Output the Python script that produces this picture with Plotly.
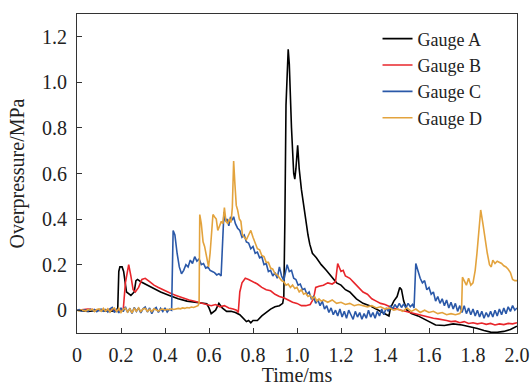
import plotly.graph_objects as go

# ---------------- data ----------------
tA = [0, 0.05, 0.1, 0.15, 0.185, 0.19, 0.195, 0.205, 0.212, 0.225, 0.245, 0.26, 0.268, 0.275, 0.29,
      0.32, 0.35, 0.38, 0.42, 0.46, 0.5, 0.54, 0.57, 0.59, 0.6, 0.61, 0.63, 0.645, 0.66, 0.68,
      0.70, 0.72, 0.74, 0.76, 0.77, 0.78, 0.79, 0.80, 0.82, 0.84, 0.86, 0.88, 0.90, 0.92, 0.935,
      0.94, 0.945, 0.95, 0.96, 0.965, 0.975, 0.985, 0.99, 0.995, 1.003, 1.01, 1.02, 1.03, 1.042, 1.05,
      1.058, 1.07, 1.088, 1.11, 1.133, 1.16, 1.18, 1.2, 1.22, 1.24, 1.27, 1.30, 1.33, 1.36, 1.39,
      1.41, 1.418, 1.425, 1.44, 1.455, 1.467, 1.475, 1.485, 1.5, 1.52, 1.55, 1.58, 1.6, 1.63, 1.67,
      1.71, 1.75, 1.785, 1.82, 1.85, 1.88, 1.91, 1.94, 1.97, 2.0]
pA = [0, -0.005, 0.0, -0.005, 0.0, 0.17, 0.19, 0.19, 0.17, 0.08, 0.065, 0.08, 0.13, 0.135, 0.125,
      0.11, 0.095, 0.08, 0.065, 0.05, 0.04, 0.035, 0.03, 0.028, 0.01, -0.015, 0.0, 0.03, 0.01, -0.005,
      -0.005, -0.01, -0.02, -0.04, -0.05, -0.045, -0.055, -0.045, -0.045, -0.025, -0.01, 0.005, 0.015, 0.02, 0.03,
      0.06, 0.4, 0.9, 1.145, 1.08, 0.8, 0.6, 0.575, 0.62, 0.724, 0.62, 0.53, 0.46, 0.39, 0.33,
      0.29, 0.25, 0.23, 0.2, 0.175, 0.145, 0.12, 0.11, 0.09, 0.08, 0.05, 0.03, 0.02, 0.005, -0.01,
      -0.02, -0.025, 0.01, 0.04, 0.06, 0.1, 0.09, 0.04, 0.0, -0.015, -0.025, -0.04, -0.05, -0.065, -0.067,
      -0.06, -0.065, -0.072, -0.08, -0.089, -0.096, -0.097, -0.093, -0.085, -0.07]

tB = [0, 0.05, 0.1, 0.15, 0.2, 0.21, 0.22, 0.235, 0.245, 0.255, 0.265, 0.28, 0.295, 0.31, 0.33,
      0.35, 0.37, 0.39, 0.41, 0.43, 0.45, 0.47, 0.49, 0.51, 0.53, 0.55, 0.57, 0.59, 0.61, 0.63,
      0.65, 0.67, 0.69, 0.71, 0.725, 0.733, 0.74, 0.75, 0.765, 0.78, 0.8, 0.82, 0.84, 0.86, 0.88,
      0.9, 0.92, 0.94, 0.96, 0.98, 1.0, 1.02, 1.04, 1.06, 1.075, 1.085, 1.1, 1.12, 1.14, 1.16,
      1.175, 1.185, 1.2, 1.21, 1.22, 1.24, 1.26, 1.28, 1.30, 1.32, 1.34, 1.36, 1.38, 1.40, 1.42,
      1.44, 1.46, 1.48, 1.50, 1.52, 1.54, 1.56, 1.58, 1.60, 1.62, 1.64, 1.66, 1.68, 1.70, 1.72,
      1.74, 1.76, 1.78, 1.80, 1.82, 1.84, 1.86, 1.88, 1.90, 1.92, 1.94, 1.96, 1.98, 2.0]
pB = [0, 0.005, 0, 0.003, 0, 0.0, 0.12, 0.2, 0.15, 0.09, 0.08, 0.1, 0.135, 0.14, 0.125,
      0.11, 0.1, 0.09, 0.08, 0.072, 0.065, 0.058, 0.05, 0.045, 0.04, 0.035, 0.03, 0.025, 0.02, 0.025,
      0.015, 0.02, 0.01, 0.005, 0.0, -0.01, 0.08, 0.12, 0.14, 0.135, 0.125, 0.115, 0.1, 0.09, 0.085,
      0.07, 0.06, 0.055, 0.045, 0.035, 0.03, 0.02, 0.02, 0.025, 0.05, 0.1, 0.105, 0.11, 0.12, 0.115,
      0.125, 0.205, 0.17, 0.175, 0.15, 0.14, 0.12, 0.1, 0.08, 0.07, 0.05, 0.04, 0.03, 0.025, 0.015,
      0.008, 0.003, -0.002, -0.005, -0.01, -0.015, -0.02, -0.025, -0.03, -0.035, -0.038, -0.04, -0.045, -0.05, -0.048,
      -0.055, -0.05, -0.058, -0.055, -0.06, -0.056, -0.062, -0.058, -0.065, -0.06, -0.063, -0.058, -0.06, -0.055]

tC = [0.00, 0.01, 0.02, 0.03, 0.04, 0.05, 0.06, 0.07, 0.08, 0.09, 0.10, 0.11, 0.12, 0.13, 0.14,
      0.15, 0.16, 0.17, 0.18, 0.19, 0.20, 0.21, 0.22, 0.23, 0.24, 0.25, 0.26, 0.27, 0.28, 0.29,
      0.30, 0.31, 0.32, 0.33, 0.34, 0.35, 0.36, 0.37, 0.38, 0.39, 0.40, 0.41, 0.42, 0.43,
      0.437, 0.445, 0.455, 0.465, 0.475, 0.485, 0.495, 0.505, 0.515, 0.525, 0.535, 0.545, 0.555, 0.565, 0.575,
      0.585, 0.595, 0.605, 0.615, 0.625, 0.635, 0.645, 0.655, 0.662, 0.668, 0.675, 0.682, 0.69, 0.698, 0.705,
      0.712, 0.72, 0.73, 0.74, 0.75, 0.76, 0.77, 0.78, 0.79, 0.80, 0.81, 0.82, 0.83, 0.84, 0.85,
      0.86, 0.87, 0.88, 0.89, 0.90, 0.91, 0.92, 0.93, 0.94, 0.955, 0.965, 0.975, 0.985, 0.995, 1.005,
      1.015, 1.025, 1.035, 1.045, 1.055, 1.065, 1.075, 1.085, 1.095, 1.105, 1.115, 1.125, 1.135, 1.145, 1.155,
      1.165, 1.175, 1.185, 1.195, 1.205, 1.215, 1.225, 1.235, 1.245, 1.255, 1.265, 1.275, 1.285, 1.295, 1.305,
      1.315, 1.325, 1.335, 1.345, 1.355, 1.365, 1.375, 1.385, 1.395, 1.405, 1.415, 1.425, 1.435, 1.445, 1.455,
      1.465, 1.475, 1.485, 1.495, 1.505, 1.515, 1.525, 1.532, 1.54, 1.55, 1.56, 1.57, 1.58, 1.59, 1.60,
      1.61, 1.62, 1.63, 1.64, 1.65, 1.66, 1.67, 1.68, 1.69, 1.70, 1.71, 1.72, 1.73, 1.74, 1.75,
      1.76, 1.77, 1.78, 1.79, 1.80, 1.81, 1.82, 1.83, 1.84, 1.85, 1.86, 1.87, 1.88, 1.89, 1.90,
      1.91, 1.92, 1.93, 1.94, 1.95, 1.96, 1.97, 1.98, 1.99, 2.0]
pC = [0, 0.003, -0.004, 0.002, 0.0, -0.005, 0.004, -0.002, 0.003, -0.006, 0.002, 0.005, -0.004, 0.003, -0.008,
      0.006, 0.012, -0.01, 0.004, -0.012, 0.01, -0.006, 0.015, -0.01, 0.008, -0.014, 0.012, -0.005, 0.01, -0.012,
      0.006, 0.014, -0.008, 0.01, -0.015, 0.005, 0.012, -0.01, 0.008, -0.006, 0.01, -0.008, 0.004, 0.0,
      0.35, 0.33, 0.25, 0.19, 0.16, 0.175, 0.2, 0.19, 0.22, 0.205, 0.235, 0.215, 0.225, 0.2, 0.205,
      0.185, 0.19, 0.175, 0.17, 0.165, 0.155, 0.16, 0.15, 0.3, 0.43, 0.39, 0.4, 0.37, 0.41, 0.395,
      0.41, 0.38, 0.36, 0.35, 0.32, 0.33, 0.3, 0.295, 0.27, 0.28, 0.25, 0.255, 0.23, 0.235, 0.2,
      0.205, 0.17, 0.175, 0.15, 0.165, 0.14, 0.19, 0.15, 0.13, 0.2, 0.17, 0.175, 0.14, 0.135, 0.11,
      0.115, 0.09, 0.095, 0.07, 0.08, 0.05, 0.06, 0.03, 0.045, 0.02, 0.04, 0.005, 0.02, -0.01, 0.01,
      -0.02, 0.0, -0.025, 0.005, -0.03, -0.005, -0.035, 0.0, -0.02, -0.04, -0.005, -0.03, -0.01, -0.04, -0.015,
      -0.035, 0.0, -0.03, -0.01, -0.035, -0.005, -0.025, 0.005, -0.02, 0.01, -0.005, 0.02, 0.005, 0.025, 0.01,
      0.03, 0.012, 0.028, 0.01, 0.03, 0.015, 0.025, 0.01, 0.205, 0.17, 0.14, 0.12, 0.13, 0.09, 0.1,
      0.07, 0.08, 0.04, 0.06, 0.03, 0.05, 0.02, 0.045, 0.01, 0.035, 0.005, 0.03, -0.005, 0.02, -0.01,
      0.02, -0.015, 0.01, -0.02, 0.005, -0.025, 0.0, -0.03, -0.005, -0.035, -0.01, -0.03, -0.005, -0.03, 0.0,
      -0.025, 0.005, -0.02, 0.01, -0.015, 0.015, -0.005, 0.02, 0.0, 0.01]

tD = [0.00, 0.01, 0.02, 0.03, 0.04, 0.05, 0.06, 0.07, 0.08, 0.09, 0.10, 0.11, 0.12, 0.13, 0.14,
      0.15, 0.16, 0.17, 0.18, 0.19, 0.20, 0.21, 0.22, 0.23, 0.24, 0.25, 0.26, 0.27, 0.28, 0.29,
      0.30, 0.31, 0.32, 0.33, 0.34, 0.35, 0.36, 0.37, 0.38, 0.39, 0.40, 0.41, 0.42, 0.43, 0.44,
      0.45, 0.46, 0.47, 0.48, 0.49, 0.50, 0.51, 0.52, 0.53, 0.54, 0.55,
      0.555, 0.558, 0.565, 0.573, 0.58, 0.59, 0.598, 0.605, 0.612, 0.618, 0.625, 0.633, 0.64, 0.648, 0.656,
      0.663, 0.67, 0.677, 0.685, 0.692, 0.70, 0.706, 0.712, 0.718, 0.724, 0.73, 0.738, 0.745, 0.752, 0.76,
      0.77, 0.78, 0.79, 0.80, 0.81, 0.82, 0.83, 0.84, 0.85, 0.86, 0.87, 0.88, 0.89, 0.90, 0.91,
      0.92, 0.93, 0.94, 0.95, 0.96, 0.97, 0.98, 0.99, 1.00, 1.01, 1.02, 1.03, 1.04, 1.05, 1.06,
      1.07, 1.08, 1.09, 1.10, 1.11, 1.12, 1.14, 1.16, 1.18, 1.20, 1.22, 1.24, 1.26, 1.28, 1.30,
      1.32, 1.34, 1.36, 1.38, 1.40, 1.42, 1.44, 1.46, 1.48, 1.50, 1.52, 1.54, 1.56, 1.58, 1.60,
      1.62, 1.64, 1.66, 1.68, 1.70, 1.72, 1.74, 1.748, 1.752, 1.76, 1.77, 1.78, 1.79, 1.80, 1.81,
      1.818, 1.826, 1.835, 1.845, 1.855, 1.865, 1.875, 1.883, 1.89, 1.90, 1.91, 1.92, 1.93, 1.94, 1.95,
      1.96, 1.97, 1.98, 1.99, 2.0]
pD = [0, -0.003, 0.002, 0.0, -0.004, 0.003, 0.0, 0.004, -0.006, 0.003, 0.006, -0.005, 0.008, -0.004, 0.006,
      -0.008, 0.005, 0.01, -0.006, 0.008, -0.01, 0.004, 0.009, -0.008, 0.006, -0.012, 0.008, -0.004, 0.01, -0.006,
      0.005, 0.008, -0.005, 0.004, -0.006, 0.006, 0.002, -0.004, 0.003, 0.005, 0.0, 0.004, 0.002, 0.006, 0.003,
      0.005, 0.008, 0.006, 0.01, 0.008, 0.012, 0.01, 0.014, 0.012, 0.015, 0.02,
      0.03, 0.42, 0.38, 0.3, 0.28, 0.22, 0.19, 0.25, 0.35, 0.42, 0.41, 0.4, 0.35, 0.37, 0.39,
      0.38, 0.45, 0.39, 0.38, 0.4, 0.385, 0.45, 0.655, 0.55, 0.46, 0.44, 0.4, 0.39, 0.33, 0.32,
      0.31, 0.33, 0.35, 0.32, 0.29, 0.27, 0.265, 0.24, 0.235, 0.21, 0.21, 0.185, 0.18, 0.16, 0.155,
      0.14, 0.13, 0.125, 0.11, 0.115, 0.1, 0.11, 0.095, 0.1, 0.08, 0.09, 0.07, 0.075, 0.06, 0.065,
      0.05, 0.06, 0.04, 0.05, 0.04, 0.045, 0.035, 0.045, 0.03, 0.035, 0.025, 0.03, 0.02, 0.025, 0.02,
      0.015, 0.02, 0.01, 0.015, 0.005, 0.01, 0.0, 0.005, -0.005, 0.01, -0.005, 0.005, -0.01, 0.0, -0.01,
      -0.005, -0.015, -0.01, -0.02, -0.015, -0.02, -0.015, 0.0, 0.145, 0.13, 0.11, 0.14, 0.11, 0.12, 0.175,
      0.25, 0.35, 0.44, 0.38, 0.31, 0.25, 0.2, 0.19, 0.22, 0.205, 0.215, 0.21, 0.205, 0.195, 0.19,
      0.18, 0.165, 0.135, 0.13, 0.13]

names = ["Gauge A", "Gauge B", "Gauge C", "Gauge D"]
colors = ["#000000", "#e8262b", "#2a58a8", "#e3a33d"]

x_ticks = [0, 0.2, 0.4, 0.6, 0.8, 1.0, 1.2, 1.4, 1.6, 1.8, 2.0]
x_tick_text = ["0", "0.2", "0.4", "0.6", "0.8", "1.0", "1.2", "1.4", "1.6", "1.8", "2.0"]
y_ticks = [0, 0.2, 0.4, 0.6, 0.8, 1.0, 1.2]
y_tick_text = ["0", "0.2", "0.4", "0.6", "0.8", "1.0", "1.2"]

series = [(tA, pA), (tB, pB), (tC, pC), (tD, pD)]
for (t, p), n in zip(series, names):
    assert len(t) == len(p), (n, len(t), len(p))

FONT = "Liberation Serif, Times New Roman, serif"

fig = go.Figure()
for (t, p), n, c in zip(series, names, colors):
    fig.add_trace(go.Scatter(x=t, y=p, mode="lines", name=n,
                             line=dict(color=c, width=1.6)))

axis_common = dict(showline=True, linecolor="#333333", linewidth=1, mirror=True,
                   ticks="inside", ticklen=5, tickcolor="#333333", tickwidth=1,
                   showgrid=False, zeroline=False, automargin=False,
                   tickfont=dict(family=FONT, size=20, color="#222222"))

fig.update_layout(
    width=532, height=386,
    margin=dict(l=77, r=15, t=14, b=53),
    paper_bgcolor="white", plot_bgcolor="white",
    font=dict(family=FONT, size=20, color="#222222"),
    xaxis=dict(range=[0, 2.0], tickvals=x_ticks, ticktext=x_tick_text,
               ticklabelstandoff=4,
               title=dict(text="Time/ms", font=dict(family=FONT, size=20), standoff=6),
               **axis_common),
    yaxis=dict(range=[-0.1, 1.3], tickvals=y_ticks, ticktext=y_tick_text,
               ticklabelstandoff=5,
               title=dict(text="Overpressure/MPa", font=dict(family=FONT, size=20), standoff=12),
               **axis_common),
    legend=dict(x=0.683, y=0.98, xanchor="left", yanchor="top",
                bgcolor="rgba(0,0,0,0)", borderwidth=0,
                font=dict(family=FONT, size=18, color="#222222"),
                tracegroupgap=0),
    showlegend=True,
)

fig.write_html("out.html")
